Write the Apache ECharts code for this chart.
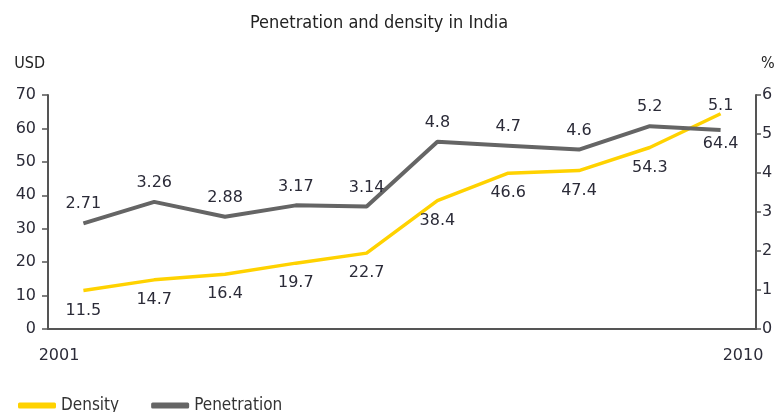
<!DOCTYPE html>
<html>
<head>
<meta charset="utf-8">
<script src="https://cdn.jsdelivr.net/npm/echarts@6/dist/echarts.min.js"></script>
<style>
  html, body { margin: 0; padding: 0; background: #fff; }
  #chart { width: 779px; height: 412px; }
</style>
</head>
<body>
<div id="chart"></div>
<script>
// years on the x axis
var years = ['2001', '2002', '2003', '2004', '2005', '2006', '2007', '2008', '2009', '2010'];
// density, USD (left axis)
var density = [11.5, 14.7, 16.4, 19.7, 22.7, 38.4, 46.6, 47.4, 54.3, 64.4];
// penetration, % (right axis)
var penetration = [2.71, 3.26, 2.88, 3.17, 3.14, 4.8, 4.7, 4.6, 5.2, 5.1];
// only first and last year are labelled
var yearLabels = ['2001', '2010'];

var YELLOW = '#FFD200';
var GREY = '#656565';
var FONT = 'DejaVu Sans';
var NARROW = 'DejaVu Sans Condensed';
var TXT = '#2b2b38';
var last = years.length - 1;

// in the source picture the two end labels are swapped, keep it that way
var densityData = density.map(function (v, i) {
    if (i === last) {
        return { value: v, label: { position: 'top', distance: 0, formatter: String(penetration[last]) } };
    }
    return v;
});
var penetrationData = penetration.map(function (v, i) {
    if (i === last) {
        return { value: v, label: { position: 'bottom', distance: 6, formatter: String(density[last]) } };
    }
    return v;
});

var chart = echarts.init(document.getElementById('chart'));
var option = {
    animation: false,
    title: {
        text: 'Penetration and density in India',
        left: 245,
        top: 9,
        textStyle: { fontFamily: NARROW, fontSize: 18, fontWeight: 'normal', color: '#222' }
    },
    legend: {
        left: 13,
        top: 392,
        itemWidth: 38,
        itemHeight: 6,
        itemGap: 32,
        icon: 'roundRect',
        textStyle: { fontFamily: NARROW, fontSize: 17, color: '#333' },
        data: ['Density', 'Penetration']
    },
    grid: { left: 48, right: 23, top: 95, bottom: 83 },
    xAxis: [{
        type: 'category',
        data: years,
        boundaryGap: true,
        axisLine: { lineStyle: { color: '#555', width: 2 } },
        axisTick: { show: false },
        axisLabel: { show: false }
    }, {
        type: 'value',
        position: 'bottom',
        min: 0,
        max: 1,
        interval: 1,
        splitLine: { show: false },
        axisLine: { show: false },
        axisTick: { show: false },
        axisLabel: {
            margin: 19,
            formatter: function (v) {
                return v === 0 ? '{a|' + yearLabels[0] + '}' : '{b|' + yearLabels[1] + '}';
            },
            rich: {
                a: { fontFamily: FONT, fontSize: 16, color: TXT, padding: [0, 0, 0, 22] },
                b: { fontFamily: FONT, fontSize: 16, color: TXT, padding: [0, 26, 0, 0] }
            }
        }
    }],
    yAxis: [{
        type: 'value',
        name: 'USD',
        nameGap: 23,
        nameTextStyle: { fontFamily: NARROW, fontSize: 16, color: '#222', align: 'right', padding: [0, 3, 0, 0] },
        min: 0,
        max: 70,
        interval: 10,
        splitLine: { show: false },
        axisLine: { show: true, lineStyle: { color: '#555', width: 2 } },
        axisTick: { show: true, length: 6, lineStyle: { color: '#555', width: 1.5 } },
        axisLabel: { margin: 12, fontFamily: FONT, fontSize: 16, color: TXT }
    }, {
        type: 'value',
        name: '%',
        nameGap: 23,
        nameTextStyle: { fontFamily: NARROW, fontSize: 16, color: '#222', align: 'left', padding: [0, 0, 0, 5] },
        min: 0,
        max: 6,
        interval: 1,
        splitLine: { show: false },
        axisLine: { show: true, lineStyle: { color: '#555', width: 2 } },
        axisTick: { show: true, length: 5, lineStyle: { color: '#555', width: 1.5 } },
        axisLabel: { margin: 6, fontFamily: FONT, fontSize: 16, color: TXT }
    }],
    series: [{
        name: 'Density',
        type: 'line',
        yAxisIndex: 0,
        data: densityData,
        symbol: 'circle',
        symbolSize: 0,
        color: YELLOW,
        lineStyle: { color: YELLOW, width: 3.5 },
        label: {
            show: true,
            position: 'bottom',
            distance: 12,
            fontFamily: FONT,
            fontSize: 16,
            color: TXT
        }
    }, {
        name: 'Penetration',
        type: 'line',
        yAxisIndex: 1,
        data: penetrationData,
        symbol: 'circle',
        symbolSize: 0,
        color: GREY,
        lineStyle: { color: GREY, width: 4 },
        label: {
            show: true,
            position: 'top',
            distance: 11,
            fontFamily: FONT,
            fontSize: 16,
            color: TXT
        }
    }]
};
chart.setOption(option);
</script>
</body>
</html>
